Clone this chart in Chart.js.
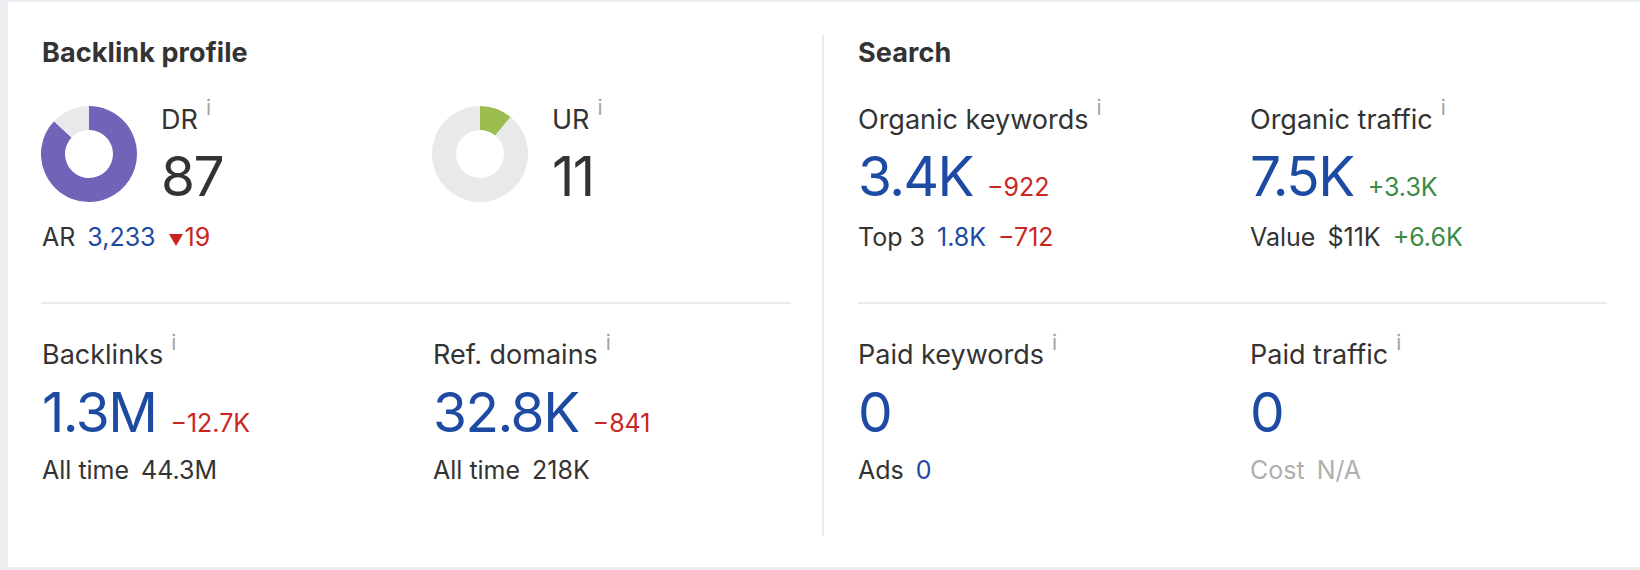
<!DOCTYPE html>
<html>
<head>
<meta charset="utf-8">
<script src="https://cdn.jsdelivr.net/npm/chart.js@4.4.1/dist/chart.umd.min.js"></script>
<style>
  html, body { margin: 0; padding: 0; }
  body { width: 1640px; height: 570px; background: #ebedf0; font-family: Inter, "Noto Sans", sans-serif; color: #333; overflow: hidden; }
  #card { position: absolute; left: 8px; top: 2px; width: 1632px; height: 565px; background: #fff; }
  .t { position: absolute; line-height: 1; white-space: nowrap; }
  .head { font-size: 27px; font-weight: 700; color: #333; letter-spacing: 0.1px; }
  .label { font-size: 27px; color: #333; }
  .info { font-size: 21px; color: #a3a3a3; position: relative; top: -14px; margin-left: 8px; }
  .big { font-size: 55px; color: #1d4aa2; letter-spacing: -1.5px; }
  .big.dark { color: #333; }
  .delta { font-size: 25px; margin-left: 14px; letter-spacing: 0; }
  .sub { font-size: 25px; color: #333; }
  .sub span { margin-left: 12px; }
  .blue { color: #1d4aa2; }
  .red { color: #c8261f; }
  .green { color: #3b8a45; }
  .muted { color: #b0b0b0; }
  .hr { position: absolute; height: 2px; background: #e9eaec; }
  .vr { position: absolute; width: 2px; background: #ebebeb; }
  .tri { display: inline-block; width: 0; height: 0; border-left: 7px solid transparent; border-right: 7px solid transparent; border-top: 12px solid #c8261f; margin-left: 13px; margin-right: 2px; }
  canvas { position: absolute; }
</style>
</head>
<body>
<div id="card"></div>
<div id="page"></div>
<script>
// Ratings shown as doughnuts
const ratingLabels = ['DR', 'UR'];
const ratingValues = [87, 11];
const ratingMax = 100;

// Ahrefs Rank line under DR
const arValue = '3,233';
const arChange = '19';

// Metric cards: label, main value, change, sub line
const metricLabels = ['Backlinks', 'Ref. domains', 'Organic keywords', 'Organic traffic', 'Paid keywords', 'Paid traffic'];
const metricValues = ['1.3M', '32.8K', '3.4K', '7.5K', '0', '0'];
const metricChanges = ['\u221212.7K', '\u2212841', '\u2212922', '+3.3K', '', ''];
const metricSubLabels = ['All time', 'All time', 'Top 3', 'Value', 'Ads', 'Cost'];
const metricSubValues = ['44.3M', '218K', '1.8K', '$11K', '0', 'N/A'];
const metricSubChanges = ['', '', '\u2212712', '+6.6K', '', ''];

const page = document.getElementById('page');
const ASC = 0.863; // Inter baseline offset for line-height 1

function addText(cls, x, baseline, fs, html) {
  const d = document.createElement('div');
  d.className = 't ' + cls;
  d.style.left = x + 'px';
  d.style.top = (baseline - ASC * fs) + 'px';
  d.innerHTML = html;
  page.appendChild(d);
  return d;
}
function addBox(cls, x, y, w, h) {
  const d = document.createElement('div');
  d.className = cls;
  d.style.left = x + 'px';
  d.style.top = y + 'px';
  if (w) d.style.width = w + 'px';
  if (h) d.style.height = h + 'px';
  page.appendChild(d);
}
function changeClass(s) {
  return s.startsWith('+') ? 'green' : 'red';
}
const info = '<span class="info">i</span>';

// section headings and dividers
addText('head', 42, 62, 27, 'Backlink profile');
addText('head', 858, 62, 27, 'Search');
addBox('hr', 41, 302, 750, 0);
addBox('hr', 858, 302, 749, 0);
addBox('vr', 822, 35, 0, 501);

// doughnut ratings
const ratingColors = ['#7262b8', '#9cbd4f'];
const donutX = [41, 432];
const textX = [161, 552];
ratingLabels.forEach((lab, i) => {
  const c = document.createElement('canvas');
  c.style.left = donutX[i] + 'px';
  c.style.top = '106px';
  c.style.width = '96px';
  c.style.height = '96px';
  c.width = 96; c.height = 96;
  page.appendChild(c);
  new Chart(c.getContext('2d'), {
    type: 'doughnut',
    data: {
      labels: [lab, ''],
      datasets: [{
        data: [ratingValues[i], ratingMax - ratingValues[i]],
        backgroundColor: [ratingColors[i], '#e8e9eb'],
        borderWidth: 0
      }]
    },
    options: {
      responsive: false,
      animation: false,
      cutout: '50%',
      plugins: { legend: { display: false }, tooltip: { enabled: false } }
    }
  });
  addText('label', textX[i], 129.5, 27, lab + info);
  addText('big dark', textX[i], 196, 55, String(ratingValues[i]));
});
addText('sub', 42, 247, 25, 'AR<span class="blue">' + arValue + '</span><i class="tri"></i><span class="red" style="margin-left:0">' + arChange + '</span>');

// metric blocks: Backlinks, Ref. domains (row 2 left), Organic (row 1 right), Paid (row 2 right)
const colX = [42, 433, 858, 1250, 858, 1250];
const rowBase = [
  [364, 432, 480], [364, 432, 480],
  [129.5, 196, 247], [129.5, 196, 247],
  [364, 432, 480], [364, 432, 480]
];
metricLabels.forEach((lab, i) => {
  const [b1, b2, b3] = rowBase[i];
  addText('label', colX[i], b1, 27, lab + info);
  let main = metricValues[i];
  if (metricChanges[i]) main += '<span class="delta ' + changeClass(metricChanges[i]) + '">' + metricChanges[i] + '</span>';
  addText('big', colX[i], b2, 55, main);
  const muted = metricSubValues[i] === 'N/A';
  let sub = '<b style="font-weight:400" class="' + (muted ? 'muted' : '') + '">' + metricSubLabels[i] + '</b>';
  const valCls = muted ? 'muted' : (i >= 2 && i !== 3 ? 'blue' : '');
  sub += '<span class="' + valCls + '">' + metricSubValues[i] + '</span>';
  if (metricSubChanges[i]) sub += '<span class="' + changeClass(metricSubChanges[i]) + '">' + metricSubChanges[i] + '</span>';
  addText('sub', colX[i], b3, 25, sub);
});
</script>
</body>
</html>
